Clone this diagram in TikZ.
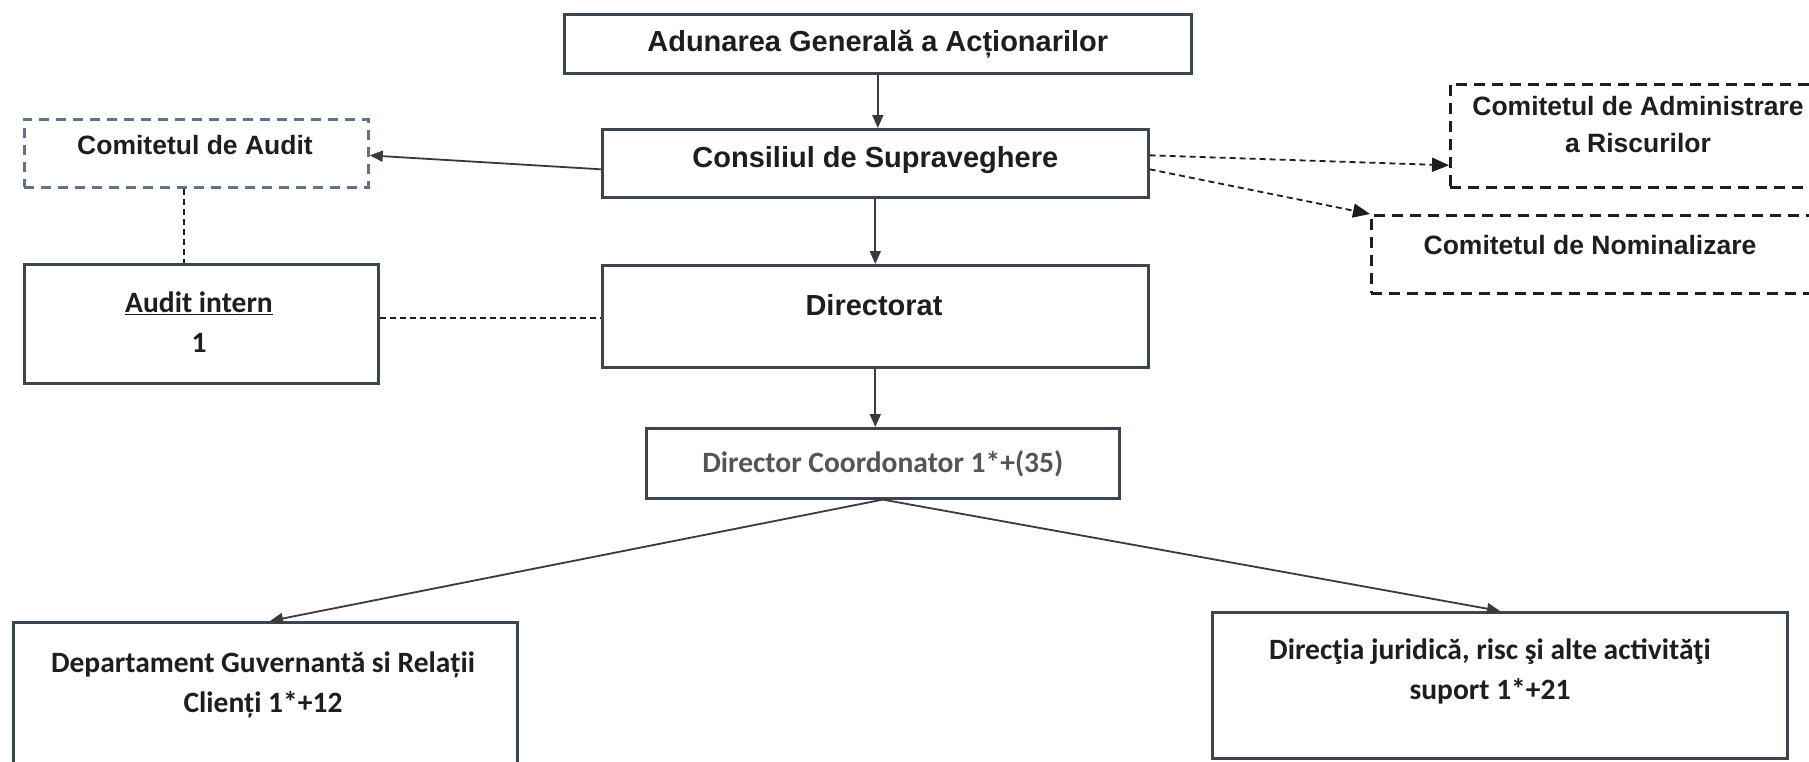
\documentclass[tikz,border=0pt]{standalone}
\usepackage{fontspec}
\setmainfont{Liberation Sans}
\newfontfamily\calibri{Carlito}
\usetikzlibrary{arrows.meta,calc}
\definecolor{boxc}{HTML}{3C4650}
\definecolor{linec}{HTML}{3A3A3A}
\definecolor{txtc}{HTML}{1E1E1E}
\definecolor{grayt}{HTML}{555555}
\definecolor{audc}{HTML}{5D7391}
\begin{document}
\begin{tikzpicture}[x=1pt,y=-1pt,
  bx/.style={draw=boxc,line width=2.6pt,fill=white,anchor=north west,inner sep=0pt},
  dbx/.style={draw=txtc,line width=2.6pt,dash pattern=on 11pt off 7pt,anchor=north west,inner sep=0pt},
  abx/.style={draw=audc,line width=2.8pt,dash pattern=on 10pt off 7pt,anchor=north west,inner sep=0pt},
  atxt/.style={font=\fontsize{26.5}{37}\selectfont\bfseries,text=txtc,align=center,inner sep=0pt},
  btxt/.style={font=\fontsize{29}{37}\selectfont\bfseries,text=txtc,align=center,inner sep=0pt},
  ctxt/.style={font=\calibri\fontsize{29.5}{40}\selectfont\bfseries,text=txtc,align=center,inner sep=0pt},
  arr/.style={draw=linec,line width=1.8pt,-{Triangle[length=13pt,width=11pt]}},
  darr/.style={draw=txtc,line width=1.8pt,dash pattern=on 6pt off 4pt,-{Triangle[length=17pt,width=14pt]}},
  dln/.style={draw=txtc,line width=1.8pt,dash pattern=on 6pt off 4pt}]
\useasboundingbox (0,0) rectangle (1809,761);
\fill[white] (0,0) rectangle (1809,761);
% boxes
\node[bx,minimum width=627pt,minimum height=59pt] (aga) at (563,13) {};
\node[bx,minimum width=546pt,minimum height=68pt] (cs) at (601,128) {};
\node[bx,minimum width=546pt,minimum height=102pt] (dir) at (601,264) {};
\node[bx,minimum width=473pt,minimum height=70pt] (dc) at (645,427) {};
\node[abx,minimum width=344pt,minimum height=68pt] (cda) at (23,118) {};
\node[bx,minimum width=354pt,minimum height=119pt] (ai) at (23,263) {};
\node[dbx,minimum width=380pt,minimum height=103pt] (car) at (1449,83) {};
\node[dbx,minimum width=445pt,minimum height=78pt] (cn) at (1370,214) {};
\node[bx,minimum width=504pt,minimum height=170pt] (dgrc) at (12,621) {};
\node[bx,minimum width=575pt,minimum height=146pt] (dj) at (1211,611) {};
% texts
\node[btxt] (t-aga) at (aga.center) {Adunarea Generală a Acționarilor};
\node[btxt] (t-cs) at ($(cs.center)+(0,-3)$) {Consiliul de Supraveghere};
\node[btxt] (t-dir) at (874,305) {Directorat};
\node[ctxt,text=grayt] (t-dc) at (dc.center) {Director Coordonator 1*+(35)};
\node[atxt] (t-cda) at (195,145) {Comitetul de Audit};
\node[ctxt] (t-ai1) at (199,303) {\underline{Audit intern}};
\node[ctxt] (t-ai2) at (199,343) {1};
\node[atxt] (t-car) at (1638,125) {Comitetul de Administrare\\a Riscurilor};
\node[atxt] (t-cn) at (1590,245) {Comitetul de Nominalizare};
\node[ctxt] (t-dgrc) at (263,685) {Departament Guvernantă si Relații\\Clienți 1*+12};
\node[ctxt] (t-dj) at (1490,671) {Direcţia juridică, risc şi alte activităţi\\suport 1*+21};
% connectors
\draw[arr] (aga.south) -- (aga.south |- cs.north);
\draw[arr] (cs.south) -- (cs.south |- dir.north);
\draw[arr] (dir.south) -- (dir.south |- dc.north);
\draw[arr] ($(cs.west)+(0,6)$) -- ($(cda.east)+(0,2)$);
\draw[arr] (dc.south) -- ($(dgrc.north west)+(258,0)$);
\draw[arr] (dc.south) -- ($(dj.north west)+(289,0)$);
\draw[darr] ($(cs.east)+(0,-8)$) -- ($(car.west)+(0,29.5)$);
\draw[darr] ($(cs.east)+(0,6)$) -- (cn.north west);
\draw[dln] ($(cda.south west)+(161,0)$) -- ($(ai.north west)+(161,0)$);
\draw[dln] ($(ai.east)+(0,-5.5)$) -- ($(dir.west)+(0,2)$);
\end{tikzpicture}
\end{document}
